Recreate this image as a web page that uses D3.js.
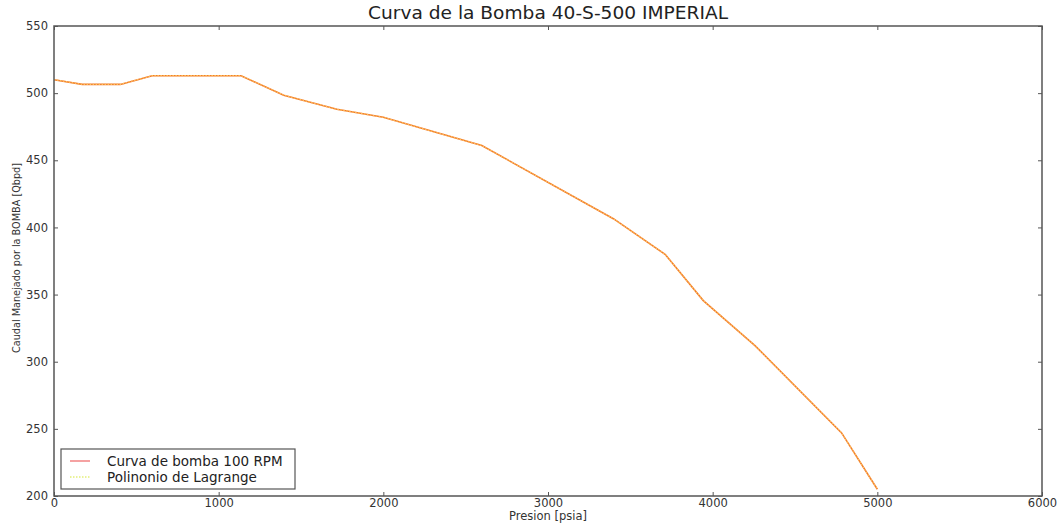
<!DOCTYPE html>
<html>
<head>
<meta charset="utf-8">
<script src="https://cdn.jsdelivr.net/npm/d3@7"></script>
<style>
    body { margin: 0; background: #fff; }
    svg { display: block; font-family: "DejaVu Sans", sans-serif; }
</style>
</head>
<body>
<div id="chart"></div>
<script>
// puntos de la curva
var presion = [0, 171, 403, 596, 1136, 1395, 1718, 2000, 2598, 3397, 3711, 3943, 4257, 4783, 5000];
var caudal = [510, 506.5, 506.5, 513, 513, 498.5, 488, 482, 461, 406.5, 380, 345.5, 312, 247, 205];

var xTicks = [0, 1000, 2000, 3000, 4000, 5000, 6000];
var yTicks = [200, 250, 300, 350, 400, 450, 500, 550];

var seriesNames = ["Curva de bomba 100 RPM", "Polinonio de Lagrange"];

var width = 1058;
var height = 525;
var margin = {left: 54, right: 16, top: 26, bottom: 29};

var svg = d3.select("#chart")
    .append("svg")
    .attr("width", width)
    .attr("height", height);

var x = d3.scaleLinear()
    .domain([0, 6000])
    .range([margin.left, width - margin.right]);

var y = d3.scaleLinear()
    .domain([200, 550])
    .range([height - margin.bottom, margin.top]);

var puntos = presion.map(function(p, i){ return [p, caudal[i]]; });

var line = d3.line()
    .x(function(d){ return x(d[0]); })
    .y(function(d){ return y(d[1]); });

// serie roja solida
svg.append("path")
    .datum(puntos)
    .attr("d", line)
    .attr("fill", "none")
    .attr("stroke", "#f07a30")
    .attr("stroke-width", 1.6);

// polinomio punteado amarillo encima
svg.append("path")
    .datum(puntos)
    .attr("d", line)
    .attr("fill", "none")
    .attr("stroke", "#ffc458")
    .attr("stroke-width", 1.2)
    .attr("stroke-dasharray", "1.5,1.5");

// ejes con ticks hacia adentro
var axisColor = "#555";

var gBottom = svg.append("g")
    .attr("transform", "translate(0," + (height - margin.bottom) + ")")
    .call(d3.axisBottom(x).tickValues(xTicks).tickFormat(d3.format("d")).tickSizeInner(-4).tickSizeOuter(0).tickPadding(3));

var gTop = svg.append("g")
    .attr("transform", "translate(0," + margin.top + ")")
    .call(d3.axisTop(x).tickValues(xTicks).tickFormat("").tickSizeInner(-4).tickSizeOuter(0));

var gLeft = svg.append("g")
    .attr("transform", "translate(" + margin.left + ",0)")
    .call(d3.axisLeft(y).tickValues(yTicks).tickFormat(d3.format("d")).tickSizeInner(-4).tickSizeOuter(0).tickPadding(6));

var gRight = svg.append("g")
    .attr("transform", "translate(" + (width - margin.right) + ",0)")
    .call(d3.axisRight(y).tickValues(yTicks).tickFormat("").tickSizeInner(-4).tickSizeOuter(0));

[gBottom, gTop, gLeft, gRight].forEach(function(g){
    g.select(".domain").remove();
    g.selectAll("line").attr("stroke", axisColor);
    g.selectAll("text")
        .attr("fill", "#333")
        .style("font-family", "DejaVu Sans, sans-serif")
        .style("font-size", "11.5px");
});

// cuadro del area de grafica
svg.append("rect")
    .attr("x", margin.left)
    .attr("y", margin.top)
    .attr("width", width - margin.left - margin.right)
    .attr("height", height - margin.top - margin.bottom)
    .attr("fill", "none")
    .attr("stroke", axisColor)
    .attr("stroke-width", 1.5);

// titulo
svg.append("text")
    .attr("x", (margin.left + width - margin.right) / 2)
    .attr("y", 19)
    .attr("text-anchor", "middle")
    .attr("textLength", 360)
    .attr("lengthAdjust", "spacingAndGlyphs")
    .style("font-size", "17px")
    .attr("fill", "#222")
    .text("Curva de la Bomba 40-S-500 IMPERIAL");

// etiquetas de ejes
svg.append("text")
    .attr("x", (margin.left + width - margin.right) / 2)
    .attr("y", 520)
    .attr("text-anchor", "middle")
    .style("font-size", "11.5px")
    .attr("fill", "#333")
    .text("Presion [psia]");

svg.append("text")
    .attr("transform", "translate(20,258) rotate(-90)")
    .attr("text-anchor", "middle")
    .attr("textLength", 190)
    .attr("lengthAdjust", "spacingAndGlyphs")
    .style("font-family", "DejaVu Sans Condensed, DejaVu Sans, sans-serif")
    .style("font-size", "11px")
    .attr("fill", "#333")
    .text("Caudal Manejado por la BOMBA [Qbpd]");

// leyenda
var legend = svg.append("g").attr("transform", "translate(61,449)");

legend.append("rect")
    .attr("width", 234)
    .attr("height", 40)
    .attr("fill", "#fff")
    .attr("stroke", axisColor)
    .attr("stroke-width", 1.2);

var legendStyles = [
    {stroke: "#f07070", dash: null},
    {stroke: "#e4f07a", dash: "1.5,1.5"}
];

seriesNames.forEach(function(name, i){
    var row = legend.append("g").attr("transform", "translate(0," + (12 + i * 16) + ")");
    row.append("line")
        .attr("x1", 9).attr("x2", 29)
        .attr("y1", 0).attr("y2", 0)
        .attr("stroke", legendStyles[i].stroke)
        .attr("stroke-width", 1.3)
        .attr("stroke-dasharray", legendStyles[i].dash);
    row.append("text")
        .attr("x", 46)
        .attr("y", 5)
        .style("font-size", "13.5px")
        .attr("fill", "#222")
        .text(name);
});
</script>
</body>
</html>
